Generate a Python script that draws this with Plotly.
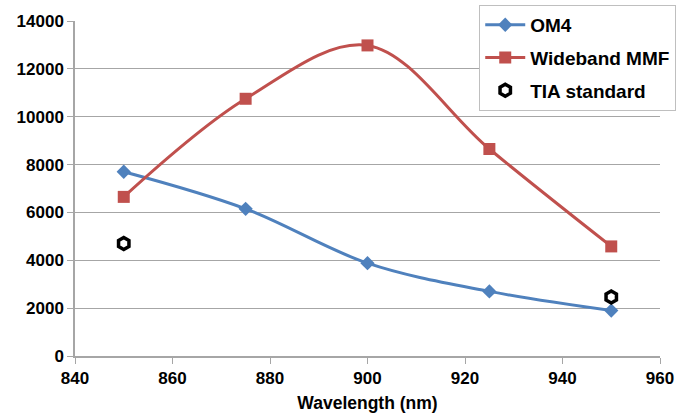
import plotly.graph_objects as go

wavelength = [850, 875, 900, 925, 950]
om4 = [7700, 6150, 3880, 2700, 1900]
wideband = [6650, 10750, 12980, 8650, 4580]
tia_x = [850, 950]
tia_y = [4700, 2470]
x_ticks = [840, 860, 880, 900, 920, 940, 960]
y_ticks = [0, 2000, 4000, 6000, 8000, 10000, 12000, 14000]

font_family = "Liberation Sans, Arial, sans-serif"
tick_font = dict(family=font_family, size=17, color="black", weight="bold")
title_font = dict(family=font_family, size=17.5, color="black", weight="bold")

fig = go.Figure()
fig.add_trace(go.Scatter(
    x=wavelength, y=om4, name="OM4", mode="lines+markers", legendgroup="a",
    line=dict(color="#4F81BD", width=3, shape="spline", smoothing=1.0),
    marker=dict(symbol="diamond", size=11, color="#4F81BD"),
))
fig.add_trace(go.Scatter(
    x=wavelength, y=wideband, name="Wideband MMF", mode="lines+markers", legendgroup="b",
    line=dict(color="#C0504D", width=3, shape="spline", smoothing=1.0),
    marker=dict(symbol="square", size=12, color="#C0504D"),
))
fig.add_trace(go.Scatter(
    x=tia_x, y=tia_y, name="TIA standard", mode="markers", legendgroup="c",
    marker=dict(symbol="hexagon-open", size=12, color="black", line=dict(width=3.5, color="black")),
))

fig.update_layout(
    width=681, height=420,
    margin=dict(l=75, r=21, t=21, b=64, autoexpand=False),
    paper_bgcolor="white", plot_bgcolor="white",
    font=dict(family=font_family, size=16, color="black", weight="bold"),
    showlegend=True,
    legend=dict(
        x=0.691, y=1.048, xanchor="left", yanchor="top",
        bgcolor="white", bordercolor="#BFBFBF", borderwidth=1,
        font=dict(family=font_family, size=19, color="black", weight="bold"),
        itemwidth=40, tracegroupgap=5,
    ),
    xaxis=dict(
        range=[840, 960], tickvals=x_ticks, showgrid=False,
        showline=True, linecolor="#A6A6A6", linewidth=1.5,
        ticks="outside", tickcolor="#A6A6A6", ticklen=6,
        tickfont=tick_font,
        title=dict(text="Wavelength (nm)", font=title_font, standoff=10),
        zeroline=False,
    ),
    yaxis=dict(
        range=[0, 14000], tickvals=y_ticks, tickformat="d", showgrid=True, gridcolor="#A6A6A6", gridwidth=1,
        showline=True, linecolor="#A6A6A6", linewidth=1.5,
        ticks="outside", tickcolor="#A6A6A6", ticklen=6,
        tickfont=tick_font,
        zeroline=False,
    ),
)

fig.write_html("out.html")
